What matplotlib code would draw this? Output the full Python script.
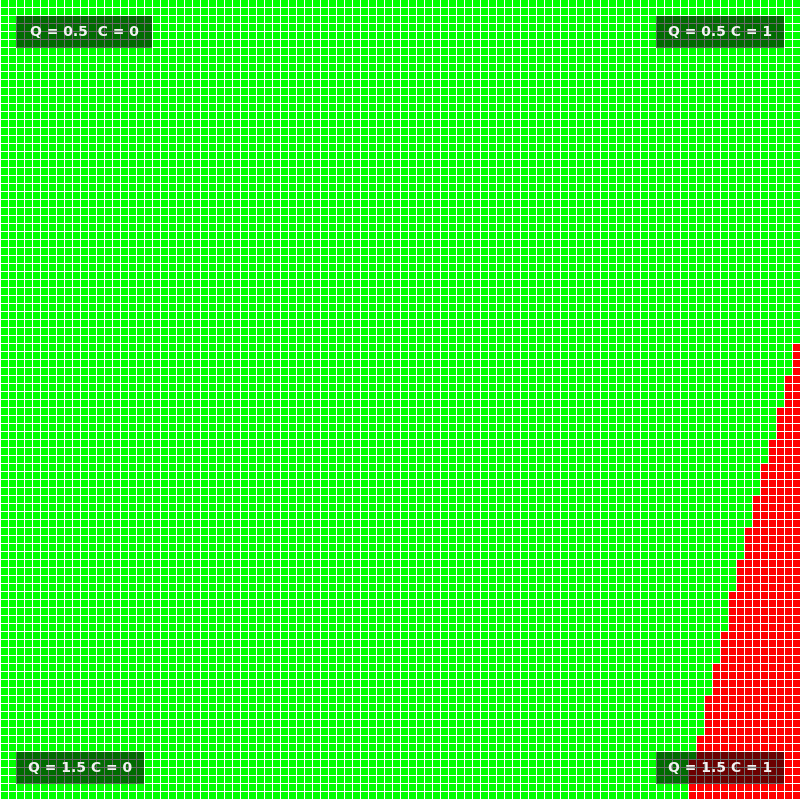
import numpy as np
import matplotlib
matplotlib.use("Agg")
import matplotlib.pyplot as plt
from matplotlib.colors import ListedColormap
from matplotlib.patches import Rectangle

# Grid size (rows x cols)
n_rows = 100
n_cols = 100

# Number of red cells (counted from the right edge) for each row, top to bottom
red_counts = ([0] * 43 + [1] * 4 + [2] * 4 + [3] * 4 + [4] * 3 + [5] * 4 +
              [6] * 4 + [7] * 4 + [8] * 4 + [9] * 5 + [10] * 4 + [11] * 4 +
              [12] * 5 + [13] * 3 + [14] * 5)

# Corner labels
labels = ["Q = 0.5  C = 0", "Q = 0.5 C = 1", "Q = 1.5 C = 0", "Q = 1.5 C = 1"]

grid = np.zeros((n_rows, n_cols), dtype=int)
for r, c in enumerate(red_counts):
    if c > 0:
        grid[r, n_cols - c:] = 1

fig = plt.figure(figsize=(8, 8), dpi=100)
ax = fig.add_axes([0, 0, 1, 1])
cmap = ListedColormap(["#00ff00", "#ff0000"])
off = -0.5 / 8.0
ax.pcolormesh(np.arange(n_cols + 1), np.arange(n_rows + 1), grid, cmap=cmap,
              vmin=0, vmax=1, edgecolors="white", linewidth=0.72,
              antialiased=False)
ax.set_xlim(-off, n_cols - off)
ax.set_ylim(n_rows - off, -off)
ax.axis("off")

# label boxes in pixel units (x, y from top, width, height)
boxes = [(16, 16, 136, 32), (656, 16, 128, 32), (16, 752, 128, 32), (656, 752, 128, 32)]
W, H = 800.0, 800.0
for (bx, by, bw, bh), lab in zip(boxes, labels):
    rect = Rectangle((bx / W, 1 - (by + bh) / H), bw / W, bh / H,
                     transform=fig.transFigure, facecolor="black", alpha=0.58,
                     edgecolor="none", zorder=5)
    fig.patches.append(rect)
    fig.text((bx + bw / 2) / W, 1 - (by + bh / 2) / H, lab, color="#f2f2f2",
             fontsize=10, fontweight="bold", ha="center", va="center",
             family="DejaVu Sans", zorder=6)

fig.savefig("out.png", dpi=100)
